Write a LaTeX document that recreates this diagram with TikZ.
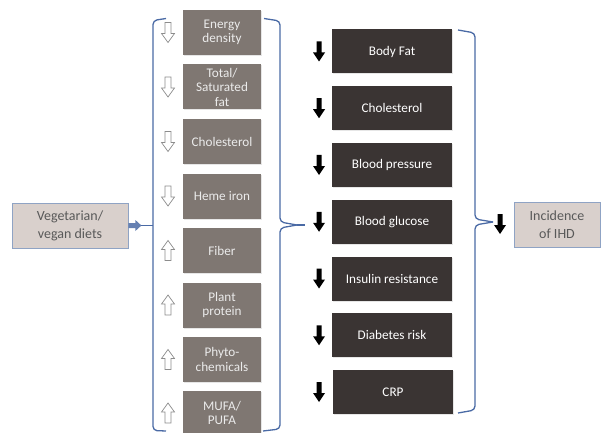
\documentclass[tikz,border=0pt]{standalone}
\usepackage{fontspec}
\setmainfont{Carlito}
\usetikzlibrary{arrows.meta,shadows}
\definecolor{brk}{HTML}{4A6AA5}
\definecolor{beige}{HTML}{D9D0CC}
\definecolor{beigeedge}{HTML}{8FA3C4}
\definecolor{graybox}{HTML}{7F7772}
\definecolor{darkbox}{HTML}{3A3433}
\definecolor{hollow}{HTML}{8C8C8C}
\tikzset{
  endbox/.style={draw=beigeedge, line width=0.8pt, fill=beige, text=black!65, font=\fontsize{14}{18}\selectfont,
    minimum height=45pt, align=center, inner sep=1pt,
    drop shadow={opacity=0.25, shadow xshift=1.2pt, shadow yshift=-1.2pt}},
  foodbox/.style={fill=graybox, text=white!92!black, font=\fontsize{13.2}{14.5}\selectfont,
    minimum width=78pt, minimum height=45pt, align=center, inner sep=0pt,
    drop shadow={opacity=0.2, shadow xshift=1pt, shadow yshift=-1pt}},
  riskbox/.style={fill=darkbox, text=white, font=\fontsize{13.2}{15}\selectfont,
    minimum width=120pt, minimum height=44pt, align=center, inner sep=1pt,
    drop shadow={opacity=0.2, shadow xshift=1pt, shadow yshift=-1pt}},
  brace/.style={draw=brk, line width=1.3pt, rounded corners=4pt},
}
\newcommand{\hdown}[2]{\draw[hollow, fill=white, line width=0.7pt]
  (#1-3,#2-10) -- (#1+3,#2-10) -- (#1+3,#2+1) -- (#1+6.5,#2+1) -- (#1,#2+10) -- (#1-6.5,#2+1) -- (#1-3,#2+1) -- cycle;}
\newcommand{\hup}[2]{\draw[hollow, fill=white, line width=0.7pt]
  (#1-3,#2+10) -- (#1+3,#2+10) -- (#1+3,#2-1) -- (#1+6.5,#2-1) -- (#1,#2-10) -- (#1-6.5,#2-1) -- (#1-3,#2-1) -- cycle;}
\newcommand{\bdown}[2]{\fill[black]
  (#1-2.5,#2-10) -- (#1+2.5,#2-10) -- (#1+2.5,#2+1) -- (#1+6,#2+1) -- (#1,#2+10) -- (#1-6,#2+1) -- (#1-2.5,#2+1) -- cycle;}
\begin{document}
\begin{tikzpicture}[x=1pt,y=-1pt]
\useasboundingbox (0,0) rectangle (605,433);
\begin{scope}
\clip (0,0) rectangle (605,433);
% left box
\node[endbox, minimum width=116pt] (veg) at (70,225.5) {Vegetarian/\\vegan diets};
% food boxes
\node[foodbox] (f1) at (222,32.5) {Energy\\density};
\node[foodbox] (f2) at (222,87) {Total/\\Saturated\\fat};
\node[foodbox] (f3) at (222,141.5) {Cholesterol};
\node[foodbox] (f4) at (222,196) {Heme iron};
\node[foodbox] (f5) at (222,250.5) {Fiber};
\node[foodbox] (f6) at (222,305) {Plant\\protein};
\node[foodbox] (f7) at (222,359.5) {Phyto-\\chemicals};
\node[foodbox] (f8) at (222,413) {MUFA/\\PUFA};
% risk boxes
\node[riskbox] (r1) at (392,51.5) {Body Fat};
\node[riskbox] (r2) at (392,108.25) {Cholesterol};
\node[riskbox] (r3) at (392,165) {Blood pressure};
\node[riskbox] (r4) at (392,221.75) {Blood glucose};
\node[riskbox] (r5) at (392,278.5) {Insulin resistance};
\node[riskbox] (r6) at (392,335.25) {Diabetes risk};
\node[riskbox] (r7) at (393,392) {CRP};
% right box
\node[endbox, minimum width=86pt] (ihd) at (557,224.5) {Incidence\\of IHD};
% hollow arrows
\hdown{168}{32.5}
\hdown{168}{87}
\hdown{168}{141.5}
\hdown{168}{196}
\hup{168}{250.5}
\hup{168}{305}
\hup{168}{359.5}
\hup{168}{413}
% black arrows
\bdown{319}{51.5}
\bdown{319}{108.25}
\bdown{319}{165}
\bdown{319}{221.75}
\bdown{319}{278.5}
\bdown{319}{335.25}
\bdown{319}{392}
\bdown{500}{224}
% brackets
\coordinate (lb) at (153,225.5);
\draw[brace] (166,18.5) -- (153,20.5) -- (153,430.5) -- (166,431);
\draw[brace] (264,18.5) -- (280,21) -- (280,222) -- (297,225);
\draw[brace] (297,225) -- (280,228) -- (280,429) -- (263,431);
\draw[brace] (458,30) -- (475,33) -- (475,219) -- (493,222);
\draw[brace] (493,222) -- (475,225) -- (475,410) -- (458,413);
\coordinate (lt) at (297,225);
% blue arrow from veg to bracket
\fill[brk!85!white] (veg.east) ++(0,-2.5) -- ++(7,0) -- ++(0,-3) -- ++(6,5.5) -- ++(-6,5.5) -- ++(0,-3) -- ++(-7,0) -- cycle;
\draw[brk, line width=1.3pt] ([xshift=13pt]veg.east) -- (lb);
% tip line
\draw[brk, line width=1.3pt] (lt) -- (305,225);
\end{scope}
\end{tikzpicture}
\end{document}
